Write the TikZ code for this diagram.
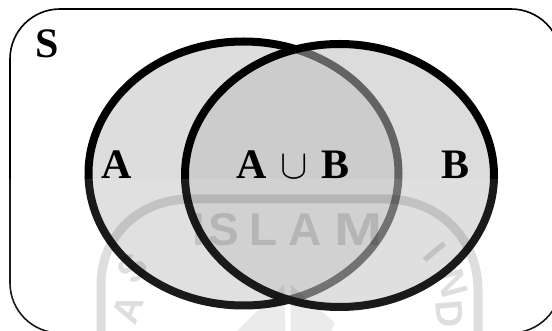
\documentclass[tikz,border=0pt]{standalone}
\usepackage{fontspec}
\setmainfont{Liberation Serif}
\setsansfont{Liberation Sans}
\tikzset{
  x=1pt,y=-1pt,
  lab/.style={font=\fontsize{42}{46}\selectfont\bfseries,inner sep=0pt,anchor=base},
  wm/.style={draw=black,opacity=0.13,line width=9pt},
  wmt/.style={text=black,text opacity=0.13,font=\fontsize{46}{50}\selectfont\sffamily\bfseries,inner sep=0pt},
  wms/.style={wmt,font=\fontsize{38}{42}\selectfont\sffamily\bfseries}
}
\begin{document}
\begin{tikzpicture}
\useasboundingbox (0,0) rectangle (552,331);
\fill[white] (0,0) rectangle (552,331);
\draw[line width=1.6pt,rounded corners=50pt] (10,9) rectangle (561,333);
\draw[fill={rgb,255:red,221;green,221;blue,221},line width=8pt] (243.5,173.5) ellipse [x radius=155,y radius=132];
\fill[fill={rgb,255:red,190;green,190;blue,190},opacity=.525] (339.5,175.5) ellipse [x radius=154.5,y radius=131.5];
\draw[line width=8pt] (339.5,175.5) ellipse [x radius=154.5,y radius=131.5];
\node[lab] (s) at (47,58) {S};
\node[lab] (a) at (117,179) {A};
\node[lab] (a2) at (251.5,179) {A};
\node[lab,font=\fontsize{42}{46}\selectfont] (u) at (294.5,179) {\scalebox{1.65}{$\mathbf{\cup}$}};
\node[lab] (b2) at (335.5,179) {B};
\node[lab] (b) at (455.5,179) {B};
% faint overlay and watermark
\fill[white,opacity=0.1] (0,179) rectangle (552,331);
\draw[wm] (101,331) -- (101,285) .. controls (101,235) and (140,199) .. (190,199) -- (385,199) .. controls (440,199) and (478,240) .. (478,290) -- (478,331);
\fill[black,opacity=0.08] (237,331) -- (284,285) -- (285.5,331) -- cycle;
\fill[black,opacity=0.08] (290.5,331) -- (291,285) -- (335,323) -- (331,331) -- cycle;
\node[wmt] (w1) at (199,230) {I};
\node[wmt] (w2) at (224,230) {S};
\node[wmt] (w3) at (264,230) {L};
\node[wmt] (w4) at (305,230) {A};
\node[wmt,xscale=1.25] (w5) at (358,230) {M};
\node[wms,rotate=50] (w6) at (133,268) {S};
\node[wms,rotate=70] (w7) at (128,309) {A};
\node[wms,rotate=-50] (w8) at (435,252) {I};
\node[wms,rotate=-75] (w9) at (453,283) {N};
\node[wms,rotate=-85] (w10) at (450,314) {D};
\end{tikzpicture}
\end{document}
